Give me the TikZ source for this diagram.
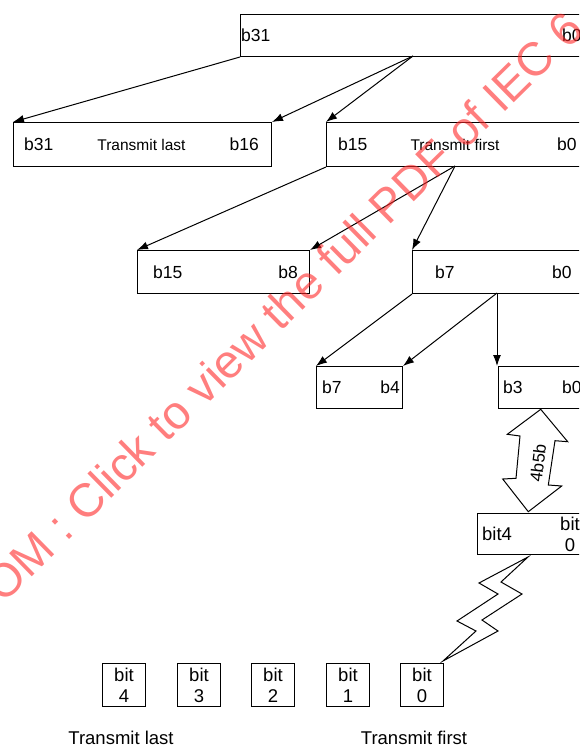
\documentclass[tikz,border=0pt]{standalone}
\usepackage{fontspec}
\setmainfont{Liberation Sans}
\usetikzlibrary{arrows.meta,positioning,calc}
\definecolor{wmred}{RGB}{255,40,40}

\begin{document}
\begin{tikzpicture}[x=1pt, y=-1pt,
    box/.style={draw, line width=1pt, rectangle, inner sep=0pt, anchor=north west},
    lbl/.style={inner sep=0pt, font=\fontsize{17.5}{20}\selectfont},
    sml/.style={inner sep=0pt, font=\fontsize{15.5}{18}\selectfont},
    big/.style={inner sep=0pt, font=\fontsize{18.5}{21}\selectfont, align=center},
    bitbox/.style={box, big, minimum width=43pt, minimum height=43pt},
    arr/.style={line width=1pt, -{Latex[length=11pt, width=8pt]}},
    wm/.style={anchor=base west, rotate=44.5, inner sep=0pt, text=wmred, text opacity=0.6, font=\fontsize{47}{50}\selectfont}]
    \useasboundingbox (0,0) rectangle (579,747);
    \clip (0,0) rectangle (579,747);

    \node[box, minimum width=360pt, minimum height=42pt] (w32) at (240,14) {};
    \node[box, minimum width=258pt, minimum height=44pt] (hi16) at (13,122) {};
    \node[box, minimum width=274pt, minimum height=44pt] (lo16) at (326,122) {};
    \node[box, minimum width=172pt, minimum height=43pt] (hi8) at (137,250) {};
    \node[box, minimum width=188pt, minimum height=43pt] (lo8) at (412,250) {};
    \node[box, minimum width=86pt, minimum height=42pt] (hi4) at (316,366) {};
    \node[box, minimum width=102pt, minimum height=42pt] (lo4) at (498,366) {};
    \node[box, minimum width=123pt, minimum height=41pt] (sym) at (477,513) {};

    \node[lbl, anchor=west] (w32a) at ([xshift=1pt]w32.west) {b31};
    \node[lbl, anchor=west] (w32b) at ([xshift=322pt]w32.west) {b0};
    \node[lbl, anchor=west] (hi16a) at ([xshift=11pt]hi16.west) {b31};
    \node[sml] (hi16t) at ([xshift=-1pt]hi16.center) {Transmit last};
    \node[lbl, anchor=east] (hi16b) at ([xshift=-13pt]hi16.east) {b16};
    \node[lbl, anchor=west] (lo16a) at ([xshift=12pt]lo16.west) {b15};
    \node[sml] (lo16t) at ([xshift=129pt]lo16.west) {Transmit first};
    \node[lbl, anchor=west] (lo16b) at ([xshift=231pt]lo16.west) {b0};
    \node[lbl, anchor=west] (hi8a) at ([xshift=16pt]hi8.west) {b15};
    \node[lbl, anchor=east] (hi8b) at ([xshift=-12pt]hi8.east) {b8};
    \node[lbl, anchor=west] (lo8a) at ([xshift=23pt]lo8.west) {b7};
    \node[lbl, anchor=west] (lo8b) at ([xshift=140pt]lo8.west) {b0};
    \node[lbl, anchor=west] (hi4a) at ([xshift=6pt]hi4.west) {b7};
    \node[lbl, anchor=east] (hi4b) at ([xshift=-3pt]hi4.east) {b4};
    \node[lbl, anchor=west] (lo4a) at ([xshift=5pt]lo4.west) {b3};
    \node[lbl, anchor=west] (lo4b) at ([xshift=64pt]lo4.west) {b0};
    \node[big, anchor=west] (syma) at ([xshift=5pt]sym.west) {bit4};
    \node[big] (symb) at ([xshift=93pt]sym.west) {bit\\0};

    \coordinate (w32s) at (413,56);
    \coordinate (lo16s) at (455,166);
    \coordinate (lo8s) at (497,293);

    \draw[arr] (w32.south west) -- (hi16.north west);
    \draw[arr] (w32s) -- (hi16.north east);
    \draw[arr] (w32s) -- (lo16.north west);
    \draw[arr] (lo16.south west) -- (hi8.north west);
    \draw[arr] (lo16s) -- (hi8.north east);
    \draw[arr] (lo16s) -- (lo8.north west);
    \draw[arr] (lo8.south west) -- (hi4.north west);
    \draw[arr] (lo8s) -- (hi4.north east);
    \draw[arr] (lo8s) -- (lo8s |- lo4.north);

    \draw[line width=1pt] (540.7,409.3) -- (507.3,434.3) -- (520,436) -- (516,478.3) -- (502.7,479)
        -- (528.3,511.7) -- (561.7,486) -- (548.3,485) -- (555,440.7) -- (567.7,441.7) -- cycle;
    \node[lbl, font=\fontsize{17}{20}\selectfont, rotate=83] (enc) at (538,463) {4b5b};

    \draw[line width=1pt] (528,557) -- (479,583) -- (498,594) -- (457,621) -- (476,631) -- (443,661)
        -- (498,631) -- (482,620) -- (522,594) -- (501,582) -- cycle;

    \foreach \i/\x in {4/102,3/177,2/251,1/326,0/400}
        \node[bitbox] (bit\i) at (\x,663) {bit\\\i};

    \node[big, anchor=base] (txlast) at (121,744) {Transmit last};
    \node[big, anchor=base] (txfirst) at (414,744) {Transmit first};

    \node[wm] (wmark) at (3,605) {OM : Click to view the full PDF of IEC 6};
\end{tikzpicture}
\end{document}
